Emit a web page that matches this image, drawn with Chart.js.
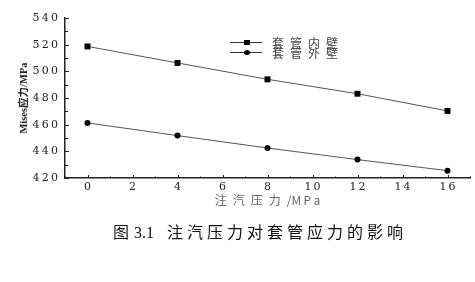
<!DOCTYPE html>
<html>
<head>
<meta charset="utf-8">
<script src="https://cdn.jsdelivr.net/npm/chart.js@4.4.0/dist/chart.umd.min.js"></script>
<style>
    html, body { margin: 0; padding: 0; background: #fff; }
    #wrap { position: relative; width: 475px; height: 282px; }
    #caption {
        position: absolute; left: 113px; top: 219px;
        font-family: 'Liberation Serif', 'Noto Sans CJK SC', serif;
        font-size: 16px; white-space: nowrap; color: #111;
    }
    #caption .num { margin-left: 5px; }
    #caption .cjk { margin-left: 13px; letter-spacing: 4px; }
</style>
</head>
<body>
<div id="wrap">
    <canvas id="chartStress" width="475" height="282"></canvas>
    <div id="caption">图<span class="num">3.1</span><span class="cjk">注汽压力对套管应力的影响</span></div>
</div>
<script>
// Data
const pressure = [0, 4, 8, 12, 16];                      // 注汽压力 (MPa)
const innerWall = [518.7, 506.3, 494.0, 483.2, 470.3];   // 套管内壁
const outerWall = [461.3, 451.8, 442.5, 433.8, 425.5];   // 套管外壁
const seriesNames = ['套管内壁', '套管外壁'];
const xTitle = '注\u2002汽\u2002压\u2002力\u2002/M\u2009P\u2009a';
const yTitle = 'Mises应力/MPa';

const tickFont = { family: "'DejaVu Serif', serif", size: 11 };
const spaced = v => String(v).split('').join('\u2009');

// small inward tick marks at every scale tick
const innerTicks = {
    id: 'innerTicks',
    afterDraw(chart) {
        const { ctx, scales: { x, y } } = chart;
        ctx.save();
        ctx.strokeStyle = '#222';
        ctx.lineWidth = 1;
        x.ticks.forEach(t => {
            const px = Math.round(x.getPixelForValue(t.value)) + 0.5;
            const len = t.value % 2 === 0 ? 3 : 1.5;
            ctx.beginPath();
            ctx.moveTo(px, x.top);
            ctx.lineTo(px, x.top - len);
            ctx.stroke();
        });
        y.ticks.forEach(t => {
            const py = Math.round(y.getPixelForValue(t.value)) + 0.5;
            const len = t.value % 20 === 0 ? 4 : 3;
            ctx.beginPath();
            ctx.moveTo(y.right, py);
            ctx.lineTo(y.right + len, py);
            ctx.stroke();
        });
        ctx.restore();
    }
};

// legend: short line with marker, then spaced label
const lineLegend = {
    id: 'lineLegend',
    afterDraw(chart) {
        const ctx = chart.ctx;
        ctx.save();
        chart.data.datasets.forEach((ds, i) => {
            const yy = 42 + i * 10;
            ctx.strokeStyle = '#333';
            ctx.lineWidth = 1;
            ctx.beginPath();
            ctx.moveTo(230, yy + 0.5);
            ctx.lineTo(262, yy + 0.5);
            ctx.stroke();
            ctx.fillStyle = '#000';
            if (ds.pointStyle === 'rect') {
                ctx.fillRect(244, yy - 2, 6, 5);
            } else {
                ctx.beginPath();
                ctx.ellipse(247, yy + 0.5, 3, 2.5, 0, 0, Math.PI * 2);
                ctx.fill();
            }
            ctx.fillStyle = '#444';
            ctx.font = "12px 'Noto Sans CJK SC', sans-serif";
            ctx.textBaseline = 'middle';
            ds.label.split('').forEach((ch, k) => ctx.fillText(ch, 272 + k * 18, yy + 1));
        });
        ctx.restore();
    }
};

new Chart(document.getElementById('chartStress'), {
    type: 'line',
    data: {
        datasets: [
            {
                label: seriesNames[0],
                data: pressure.map((p, i) => ({ x: p, y: innerWall[i] })),
                borderColor: '#555',
                borderWidth: 1,
                pointStyle: 'rect',
                pointRadius: 4.2,
                pointBackgroundColor: '#000',
                pointBorderWidth: 0,
                tension: 0
            },
            {
                label: seriesNames[1],
                data: pressure.map((p, i) => ({ x: p, y: outerWall[i] })),
                borderColor: '#555',
                borderWidth: 1,
                pointStyle: 'circle',
                pointRadius: 3,
                pointBackgroundColor: '#000',
                pointBorderWidth: 0,
                tension: 0
            }
        ]
    },
    options: {
        responsive: false,
        animation: false,
        layout: { padding: { top: 18, right: 5, bottom: 74, left: 0 } },
        plugins: {
            legend: { display: false },
            tooltip: { enabled: false }
        },
        scales: {
            x: {
                type: 'linear',
                min: -1,
                max: 17,
                afterFit(scale) { scale.height = 30; },
                grid: { display: false, drawTicks: false },
                border: { display: true, color: '#222', width: 1.5 },
                ticks: {
                    stepSize: 1,
                    padding: 3,
                    color: '#222',
                    font: tickFont,
                    maxRotation: 0,
                    autoSkip: false,
                    callback: v => (v % 2 === 0 && v >= 0 && v <= 16) ? spaced(v) : ''
                },
                title: {
                    display: true,
                    text: xTitle,
                    color: '#666',
                    font: { family: "'Noto Sans CJK SC', sans-serif", size: 12 },
                    padding: 0
                }
            },
            y: {
                min: 420,
                max: 540,
                afterFit(scale) { scale.width = 65; },
                grid: { display: false, drawTicks: false },
                border: { display: true, color: '#222', width: 1.5 },
                ticks: {
                    stepSize: 10,
                    padding: 7,
                    color: '#222',
                    font: tickFont,
                    autoSkip: false,
                    callback: v => v % 20 === 0 ? spaced(v) : ''
                },
                title: {
                    display: true,
                    text: yTitle,
                    color: '#222',
                    font: { family: "'Liberation Serif', 'Noto Sans CJK SC', serif", size: 10.5, weight: 'bold' },
                    padding: 18
                }
            }
        }
    },
    plugins: [innerTicks, lineLegend]
});
</script>
</body>
</html>
